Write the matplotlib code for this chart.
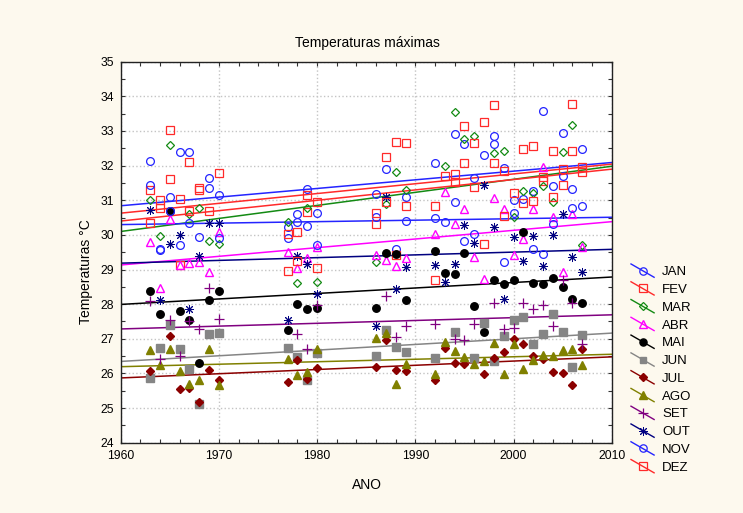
import numpy as np
import matplotlib
matplotlib.use("Agg")
import matplotlib.pyplot as plt
from matplotlib.lines import Line2D
from matplotlib.legend_handler import HandlerLine2D
from matplotlib.ticker import MultipleLocator

plt.rcParams['font.family'] = ['Liberation Sans', 'DejaVu Sans']

nan = np.nan
years = [1963, 1964, 1965, 1966, 1967, 1968, 1969, 1970,
         1977, 1978, 1979, 1980,
         1986, 1987, 1988, 1989,
         1992, 1993, 1994, 1995, 1996, 1997, 1998, 1999,
         2000, 2001, 2002, 2003, 2004, 2005, 2006, 2007]

jan = [32.13, 29.55, 31.08, 32.40, 32.40, 29.93, 31.64, 31.16,
       30.22, 30.59, 31.32, 30.63,
       31.18, 31.90, 29.58, 31.10,
       32.08, 30.36, 32.92, 32.63, 31.63, 32.32, 32.85, 31.93,
       31.02, 31.04, 31.26, 33.59, 31.40, 32.94, 31.32, 32.49]
fev = [31.30, 30.78, 33.03, 29.14, 32.10, 31.30, 30.70, 31.80,
       28.95, 30.07, 30.65, 30.94,
       30.32, 32.25, 29.41, 32.64,
       28.69, 31.69, 31.54, 33.13, 31.38, 33.25, 32.08, 31.85,
       31.20, 30.91, 32.56, 31.57, 32.41, 31.43, 33.78, 31.81]
mar = [31.00, 29.98, 32.60, nan, 30.60, 30.77, 29.82, 29.73,
       30.38, 28.61, 30.77, 28.64,
       29.22, 30.90, 31.82, 31.30,
       nan, 32.00, 33.55, 32.78, 32.85, nan, 32.36, 32.43,
       30.53, 31.27, 31.20, 31.40, 30.94, 32.38, 33.18, 29.72]
abr = [29.80, 28.46, 30.45, 29.14, 29.18, 29.23, 28.92, 30.07,
       29.52, 29.04, 29.34, 29.65,
       29.43, 29.28, 29.10, 29.33,
       30.02, 31.25, 30.32, 30.74, 29.36, 28.73, 31.07, 30.76,
       29.41, 29.89, 30.75, 31.96, 30.51, 28.94, 30.61, 29.65]
mai = [28.39, 27.71, 30.70, 27.80, 27.55, 26.30, 28.11, 28.39,
       27.24, 28.01, 27.86, 27.90,
       27.89, 29.47, 29.45, 28.11,
       29.54, 28.90, 28.86, 29.48, 27.96, 27.19, 28.70, 28.58,
       28.69, 30.07, 28.61, 28.58, 28.76, 28.51, 28.15, 28.04]
jun = [25.88, 26.74, 27.40, 26.72, 26.14, 25.13, 27.14, 27.18,
       26.74, 26.47, 25.82, 26.60,
       26.50, 27.24, 26.75, 26.63,
       26.46, nan, 27.20, nan, 26.44, 27.47, 26.35, 27.09,
       27.53, 27.63, 26.84, 27.15, 27.72, 27.21, 26.20, 27.12]
jul = [26.08, nan, 27.08, 25.56, 25.58, 25.19, 26.09, 25.80,
       25.76, 26.38, 25.85, 26.15,
       26.18, 26.98, 26.09, 26.06,
       25.82, 26.73, 26.31, 26.26, nan, 25.99, 26.44, 26.62,
       27.00, 26.86, 26.49, 26.43, 26.04, 26.01, 25.66, 26.70]
ago = [26.68, 26.23, 26.72, 26.08, 25.70, 25.82, 26.72, 25.68,
       26.43, 25.95, 26.04, 26.72,
       27.03, 27.16, 25.69, 26.28,
       25.97, 26.90, 26.64, 26.47, 26.28, 26.35, 26.88, 25.97,
       26.86, 26.13, 26.40, 26.54, 26.49, 26.69, 26.71, 26.25]
set_ = [28.08, 26.43, 27.53, 26.49, 27.51, 27.29, 28.47, 27.57,
        nan, 27.13, 26.70, 27.98,
        nan, 28.25, 27.05, 27.36,
        27.42, nan, 27.00, 26.97, 27.42, nan, 28.04, 27.27,
        27.32, 28.04, 27.87, 27.98, 27.37, 28.69, 28.04, 26.86]
out = [30.72, 28.13, 29.74, 30.00, 27.87, 29.40, 30.34, 30.34,
       27.53, 29.38, 29.17, 28.28,
       27.36, 31.09, 28.43, 29.07,
       29.12, 28.63, 29.15, 30.30, 29.76, 31.44, 30.22, 28.16,
       29.95, 29.25, 29.97, 29.09, 30.01, 30.61, 29.36, 28.94]
nov = [31.44, 29.60, 30.70, 29.70, 30.35, nan, 31.36, 29.90,
       29.92, 30.38, 30.26, 29.71,
       30.51, nan, nan, 30.41,
       30.49, nan, 30.94, 29.82, 30.04, nan, 32.63, 29.23,
       30.64, nan, 29.58, 29.45, 30.32, 31.71, 30.77, 30.82]
dez = [30.35, 31.02, 31.60, 31.05, 30.68, 31.34, nan, nan,
       30.02, 29.24, 31.16, 29.05,
       30.64, 30.95, 32.68, 30.82,
       30.83, nan, 31.76, 32.08, 32.64, 29.74, 33.75, 30.54,
       nan, 32.49, 30.99, 31.66, 31.10, 31.91, 32.41, 31.95]

months = ['JAN', 'FEV', 'MAR', 'ABR', 'MAI', 'JUN',
          'JUL', 'AGO', 'SET', 'OUT', 'NOV', 'DEZ']
series = [jan, fev, mar, abr, mai, jun, jul, ago, set_, out, nov, dez]

# styles: (color, marker, filled)
styles = [
    ('#2424ff', 'o', False),
    ('#ff2a2a', 's', False),
    ('#138a13', 'D', False),
    ('#ff00ff', '^', False),
    ('#000000', 'o', True),
    ('#858585', 's', True),
    ('#8b0000', 'D', True),
    ('#808000', '^', True),
    ('#800080', '+', True),
    ('#000080', (8, 2, 0), True),
    ('#2424ff', 'o', False),
    ('#ff2a2a', 's', False),
]
msizes = [5.6, 5.4, 4.4, 5.6, 5.4, 5.2, 4.4, 5.6, 7.5, 6.5, 5.6, 5.4]
mews = [0.9, 0.9, 0.9, 1.0, 1.0, 1.0, 1.0, 1.0, 0.9, 0.7, 0.9, 0.9]

bg = '#fdf9ee'
fig = plt.figure(figsize=(7.43, 5.13), dpi=100, facecolor=bg)
ax = fig.add_axes([0.1625, 0.137, 0.6608, 0.7427])
ax.set_facecolor('white')

yrs = np.array(years, dtype=float)
xfit = np.array([1960.0, 2010.0])
handles = []
for name, vals, (c, m, filled), ms, mw in zip(months, series, styles,
                                               msizes, mews):
    v = np.array(vals, dtype=float)
    ok = ~np.isnan(v)
    mfc = c if filled else 'none'
    ax.plot(yrs[ok], v[ok], linestyle='none', marker=m, ms=ms,
            mfc=mfc, mec=c, mew=mw, zorder=3)
    k, b = np.polyfit(yrs[ok], v[ok], 1)
    ax.plot(xfit, k * xfit + b, color=c, lw=1.1, zorder=2)
    handles.append(Line2D([], [], color=c, lw=1.0, marker=m, ms=ms * 0.95,
                          mfc=mfc, mec=c, mew=mw, label=name))

ax.set_xlim(1960, 2010)
ax.set_ylim(24, 35)
ax.xaxis.set_major_locator(MultipleLocator(10))
ax.xaxis.set_minor_locator(MultipleLocator(2))
ax.yaxis.set_major_locator(MultipleLocator(1))
ax.yaxis.set_minor_locator(MultipleLocator(0.5))
ax.tick_params(which='both', direction='in', top=True, right=True,
               length=3, width=0.8, colors='#333333', labelcolor='black',
               labelsize=8.7, pad=5)
ax.grid(True, which='major', color='#c4c4c4', linestyle=':', linewidth=1.0)
ax.set_axisbelow(True)
for s in ax.spines.values():
    s.set_color('#222222')
    s.set_linewidth(1.0)

fig.text(0.494, 0.916, 'Temperaturas máximas', ha='center', va='center',
         fontsize=10)
fig.text(367 / 743, 1 - 485 / 513, 'ANO', ha='center', va='center',
         fontsize=10)
fig.text(86 / 743, 1 - 272 / 513, 'Temperaturas °C', ha='center',
         va='center', rotation=90, fontsize=10)


class DiagHandler(HandlerLine2D):
    def create_artists(self, legend, orig_handle, xdescent, ydescent,
                       width, height, fontsize, trans):
        x0 = -xdescent
        x1 = -xdescent + width
        cy = -ydescent + height / 2.0
        half = 0.72 * height
        line = Line2D([x0, x1], [cy + half, cy - half])
        self.update_prop(line, orig_handle, legend)
        line.set_marker('None')
        line.set_transform(trans)
        mk = Line2D([(x0 + x1) / 2.0], [cy])
        self.update_prop(mk, orig_handle, legend)
        mk.set_linestyle('None')
        mk.set_transform(trans)
        return [line, mk]


leg = fig.legend(handles=handles, loc='upper left',
                 bbox_to_anchor=(631 / 743, 1 - 266 / 513),
                 frameon=False, fontsize=9.5, handlelength=1.75,
                 handletextpad=0.6, labelspacing=0.42, borderpad=0,
                 borderaxespad=0,
                 handler_map={Line2D: DiagHandler()})

fig.savefig('out.png', dpi=100, facecolor=bg)
